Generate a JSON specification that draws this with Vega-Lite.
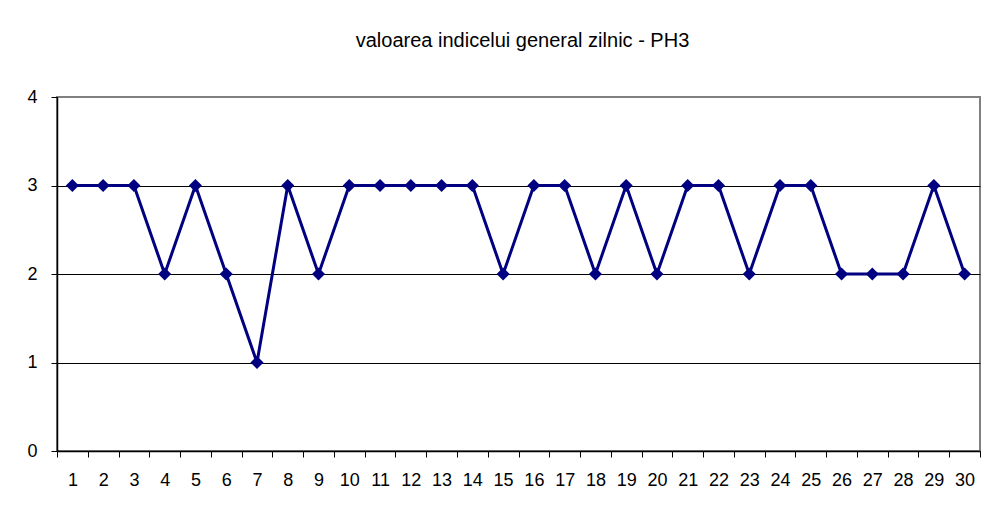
{
  "$schema": "https://vega.github.io/schema/vega-lite/v6.json",
  "autosize": {"type": "none"},
  "width": 923,
  "height": 354,
  "padding": {"left": 57, "top": 97, "right": 9, "bottom": 55},
  "background": "white",
  "title": {
    "text": "valoarea indicelui  general zilnic - PH3",
    "anchor": "middle",
    "baseline": "alphabetic",
    "offset": 21,
    "dx": 4,
    "font": "Liberation Sans",
    "fontSize": 20,
    "fontWeight": "normal",
    "color": "black"
  },
  "config": {
    "view": {"stroke": "#808080", "strokeWidth": 2},
    "axis": {
      "labelFont": "Liberation Sans",
      "labelFontSize": 18,
      "labelColor": "black",
      "domainColor": "black",
      "tickColor": "black",
      "title": null
    }
  },
  "data": {
    "values": [
      {"zi": 1, "v": 3}, {"zi": 2, "v": 3}, {"zi": 3, "v": 3}, {"zi": 4, "v": 2},
      {"zi": 5, "v": 3}, {"zi": 6, "v": 2}, {"zi": 7, "v": 1}, {"zi": 8, "v": 3},
      {"zi": 9, "v": 2}, {"zi": 10, "v": 3}, {"zi": 11, "v": 3}, {"zi": 12, "v": 3},
      {"zi": 13, "v": 3}, {"zi": 14, "v": 3}, {"zi": 15, "v": 2}, {"zi": 16, "v": 3},
      {"zi": 17, "v": 3}, {"zi": 18, "v": 2}, {"zi": 19, "v": 3}, {"zi": 20, "v": 2},
      {"zi": 21, "v": 3}, {"zi": 22, "v": 3}, {"zi": 23, "v": 2}, {"zi": 24, "v": 3},
      {"zi": 25, "v": 3}, {"zi": 26, "v": 2}, {"zi": 27, "v": 2}, {"zi": 28, "v": 2},
      {"zi": 29, "v": 3}, {"zi": 30, "v": 2}
    ]
  },
  "encoding": {
    "x": {
      "field": "zi",
      "type": "ordinal",
      "sort": null,
      "scale": {"type": "band", "paddingInner": 0, "paddingOuter": 0},
      "axis": {
        "labelAngle": 0,
        "tickBand": "extent",
        "tickSize": 6,
        "labelPadding": 14,
        "domainWidth": 1.5,
        "grid": false
      }
    },
    "y": {
      "field": "v",
      "type": "quantitative",
      "scale": {"domain": [0, 4], "nice": false},
      "axis": {
        "values": [0, 1, 2, 3, 4],
        "tickSize": 6,
        "labelPadding": 14,
        "domainWidth": 1.5,
        "grid": true,
        "gridColor": {"condition": {"test": "datum.value == 4 || datum.value == 0", "value": "#808080"}, "value": "black"},
        "gridWidth": 1,
        "gridOpacity": 1
      }
    }
  },
  "layer": [
    {"mark": {"type": "line", "color": "#000080", "strokeWidth": 3}},
    {"mark": {"type": "point", "shape": "diamond", "filled": true, "color": "#000080", "opacity": 1, "size": 170}}
  ]
}
